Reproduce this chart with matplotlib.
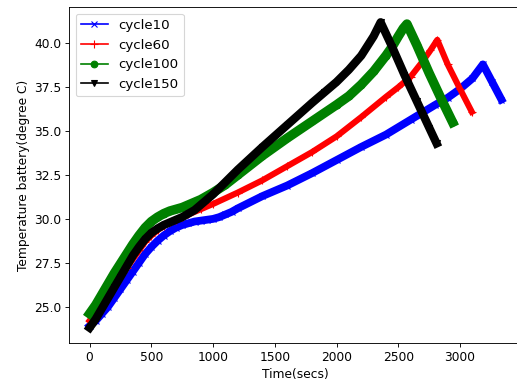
"""Battery temperature vs time for several cycles."""

import matplotlib

matplotlib.use("Agg")
import matplotlib.pyplot as plt

plt.rcParams["font.size"] = 11

# cycle10
t_c10 = [0, 50, 100, 150, 200, 250, 300, 350, 400, 450, 500, 550, 600, 650, 700, 750,
         800, 850, 900, 950, 1000, 1050, 1100, 1150, 1200, 1400, 1600, 1800, 2000,
         2200, 2400, 2600, 2800, 2900, 3000, 3100, 3185, 3260, 3335]
temp_c10 = [23.9, 24.2, 24.6, 25.0, 25.5, 26.0, 26.5, 27.0, 27.5, 28.0, 28.4, 28.75, 29.05,
            29.3, 29.5, 29.65, 29.75, 29.85, 29.9, 29.95, 30.0, 30.1, 30.25, 30.4, 30.6,
            31.3, 31.9, 32.6, 33.35, 34.1, 34.8, 35.65, 36.5, 36.9, 37.4, 38.0, 38.8, 37.8, 36.8]

# cycle60
t_c60 = [0, 100, 200, 300, 400, 450, 500, 550, 600, 650, 700, 750, 800, 900, 1000,
         1200, 1400, 1600, 1800, 2000, 2200, 2400, 2500, 2600, 2700, 2760, 2816,
         2900, 3000, 3095]
temp_c60 = [24.2, 25.1, 26.1, 27.2, 28.2, 28.7, 29.05, 29.35, 29.6, 29.8, 29.95, 30.1,
            30.25, 30.55, 30.85, 31.5, 32.2, 33.0, 33.8, 34.7, 35.8, 36.95, 37.5, 38.1,
            39.0, 39.6, 40.2, 38.8, 37.4, 36.1]

# cycle100
t_c100 = [0, 50, 100, 150, 200, 250, 300, 350, 400, 450, 500, 550, 600, 650, 700, 750,
          800, 850, 900, 1000, 1100, 1200, 1400, 1600, 1800, 2000, 2100, 2200, 2300,
          2400, 2450, 2500, 2540, 2570, 2650, 2750, 2850, 2940]
temp_c100 = [24.6, 25.1, 25.7, 26.3, 26.9, 27.45, 28.0, 28.55, 29.05, 29.5, 29.85, 30.1,
             30.3, 30.45, 30.55, 30.65, 30.8, 30.95, 31.1, 31.5, 31.95, 32.5, 33.6, 34.6,
             35.55, 36.5, 37.0, 37.65, 38.4, 39.3, 39.8, 40.4, 40.85, 41.1, 39.9, 38.3,
             36.8, 35.5]

# cycle150
t_c150 = [0, 50, 100, 150, 200, 250, 300, 350, 400, 450, 500, 550, 600, 650, 700, 750,
          800, 850, 900, 950, 1000, 1200, 1400, 1600, 1800, 1900, 2000, 2100, 2200,
          2300, 2357, 2450, 2550, 2650, 2750, 2810]
temp_c150 = [23.8, 24.3, 24.9, 25.5, 26.1, 26.7, 27.3, 27.9, 28.4, 28.85, 29.2, 29.45,
             29.65, 29.8, 29.95, 30.1, 30.3, 30.5, 30.8, 31.1, 31.4, 32.8, 34.1, 35.35,
             36.6, 37.2, 37.8, 38.5, 39.3, 40.4, 41.2, 39.8, 38.2, 36.7, 35.2, 34.3]

fig = plt.figure(figsize=(517 / 80, 385 / 80), dpi=80)
ax = fig.add_axes([69 / 517, 42 / 385, 453 / 517, 336 / 385])

# thick lines stand in for the densely packed markers of the original
ax.plot(t_c10, temp_c10, color="b", marker="x", lw=7, ms=6, label="cycle10")
ax.plot(t_c60, temp_c60, color="r", marker="+", lw=5.5, ms=7, label="cycle60")
ax.plot(t_c100, temp_c100, color="g", marker="o", lw=8.5, ms=6, label="cycle100")
ax.plot(t_c150, temp_c150, color="k", marker="v", lw=7.5, ms=6, label="cycle150")

ax.set_xlabel("Time(secs)")
ax.set_ylabel("Temperature battery(degree C)")
ax.set_xticks([0, 500, 1000, 1500, 2000, 2500, 3000])

leg = ax.legend(loc="upper left", fontsize=12)
for line in leg.get_lines():
    line.set_linewidth(1.5)

fig.savefig("out.png", dpi=80)
